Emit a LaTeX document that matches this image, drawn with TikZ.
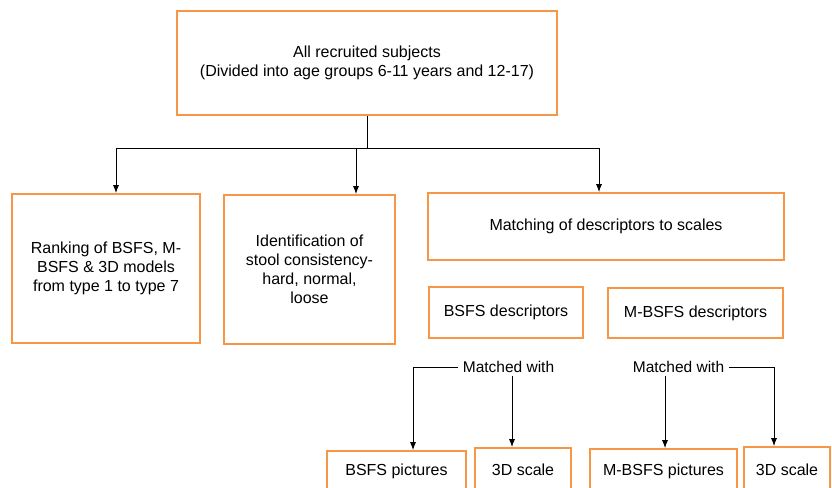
\documentclass[tikz,border=0pt]{standalone}
\usepackage{fontspec}
\setmainfont{Liberation Sans}
\usetikzlibrary{positioning}
\usetikzlibrary{arrows.meta}
\definecolor{boxorange}{RGB}{247,150,70}

\begin{document}
\begin{tikzpicture}[x=1pt,y=1pt,
    stepbox/.style={shape=rectangle,draw=boxorange,line width=1.6pt,align=center,font=\fontsize{16}{19}\selectfont},
    cutbox/.style={stepbox,inner ysep=0pt,text depth=30pt,anchor=base},
    plain/.style={font=\fontsize{15.5}{19}\selectfont,inner xsep=5pt},
    link/.style={-{Latex[length=8pt,width=6pt]},line width=1pt}]
    \useasboundingbox (0,0) rectangle (832,-487);
    \clip (0,0) rectangle (832,-487);

    \node[stepbox,minimum width=380pt,minimum height=104pt] (all) at (367,-63) {All recruited subjects\\(Divided into age groups 6-11 years and 12-17)};
    \node[stepbox,minimum width=188pt,minimum height=149pt] (ranking) at (106,-268.5) {Ranking of BSFS, M-\\BSFS \& 3D models\\from type 1 to type 7};
    \node[stepbox,minimum width=171pt,minimum height=149pt] (stool) at (309.5,-269.5) {Identification of\\stool consistency-\\hard, normal,\\loose};
    \node[stepbox,minimum width=356pt,minimum height=67pt] (matching) at (606,-226.5) {Matching of descriptors to scales};
    \node[stepbox,minimum width=154pt,minimum height=51pt] (bsfsdesc) at (506,-312.5) {BSFS descriptors};
    \node[stepbox,minimum width=175pt,minimum height=50pt] (mbsfsdesc) at (695.5,-313) {M-BSFS descriptors};

    \draw[line width=1pt] (all.south) -- ++(0,-33) coordinate (fork);
    \draw[link] (fork) -| ([xshift=10pt]ranking.north);
    \draw[link] (fork) -| ([xshift=46.5pt]stool.north);
    \draw[link] (fork) -| ([xshift=-7pt]matching.north);

    \node[plain] (match1) at (508.5,-367) {Matched with};
    \node[plain] (match2) at (678.5,-367) {Matched with};

    \node[cutbox,minimum width=139pt,text height=24pt] (bsfspic) at (396.5,-475) {BSFS pictures};
    \node[cutbox,minimum width=96pt,text height=27pt] (scaleA) at (523,-475) {3D scale};
    \node[cutbox,minimum width=147pt,text height=26pt] (mbsfspic) at (663.5,-475) {M-BSFS pictures};
    \node[cutbox,minimum width=86pt,text height=28pt] (scaleB) at (787,-475) {3D scale};

    \draw[link] (match1.west) -| ([xshift=16.5pt]bsfspic.north);
    \draw[link] ([xshift=3.5pt]match1.south) -- ([xshift=-11pt]scaleA.north);
    \draw[link] ([xshift=-13.5pt]match2.south) -- ([xshift=1.5pt]mbsfspic.north);
    \draw[link] (match2.east) -| ([xshift=-13pt]scaleB.north);
\end{tikzpicture}
\end{document}
